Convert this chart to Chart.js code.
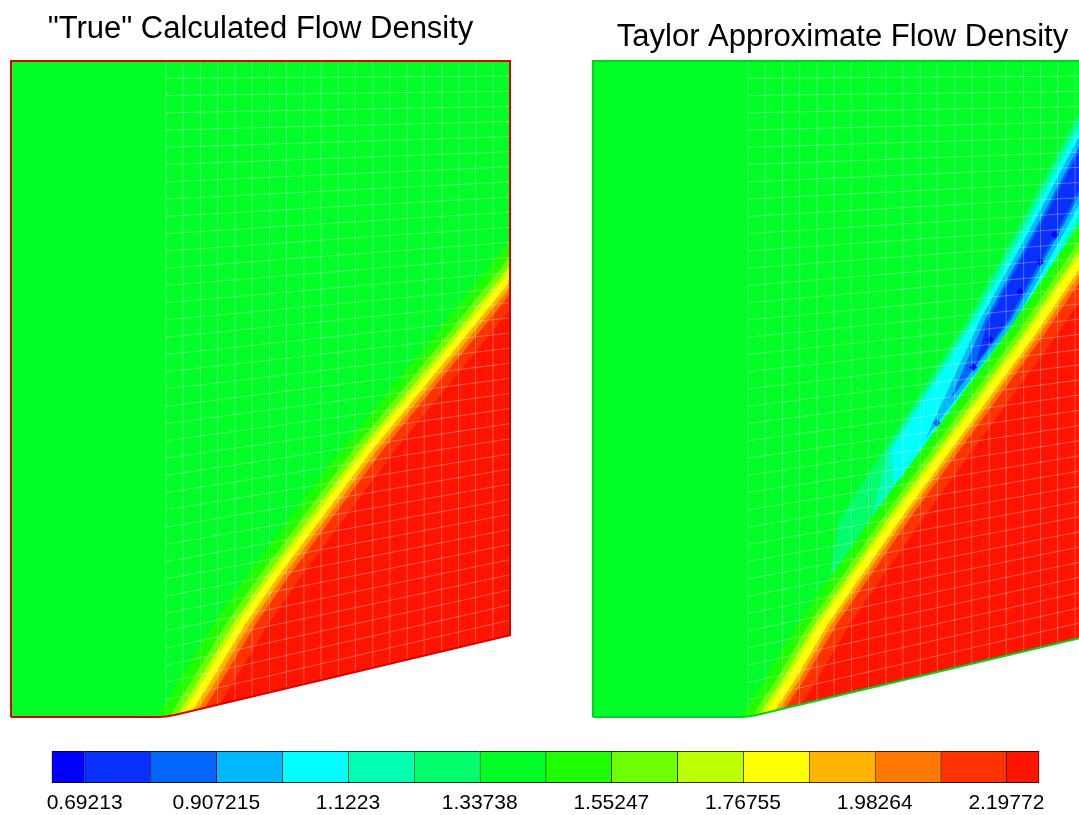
<!DOCTYPE html>
<html>
<head>
<meta charset="utf-8">
<title>Flow Density</title>
<script src="https://cdn.jsdelivr.net/npm/chart.js@4.4.1/dist/chart.umd.min.js"></script>
<style>
  html, body { margin: 0; padding: 0; background: #fff; overflow: hidden; }
  body { width: 1079px; height: 815px; position: relative; }
  canvas { position: absolute; }
  #trueField { left: 0; top: 0; }
  #taylorField { left: 582px; top: 0; }
  #legendBar { left: 0; top: 740px; }
</style>
</head>
<body>
<canvas id="trueField" width="530" height="740"></canvas>
<canvas id="taylorField" width="530" height="740"></canvas>
<canvas id="legendBar" width="1079" height="75"></canvas>
<script>
// contour levels and colours (16 bands, first/last are open ended)
var levels = [0.69213, 0.79967, 0.907215, 1.01476, 1.1223, 1.22984, 1.33738, 1.44493,
              1.55247, 1.66001, 1.76755, 1.8751, 1.98264, 2.09018, 2.19772];
var legendMin = 0.63836, legendMax = 2.25149;
var levelColors = ['#0000ff', '#0a30ff', '#0066ff', '#00b8ff', '#00ffff', '#00ffb2', '#00ff6a', '#00ff26',
                   '#1eff00', '#6eff00', '#bbff00', '#ffff00', '#ffb400', '#ff7800', '#ff3200', '#ff1400'];
var tickValues = [0.69213, 0.907215, 1.1223, 1.33738, 1.55247, 1.76755, 1.98264, 2.19772];
var tickLabels = ['0.69213', '0.907215', '1.1223', '1.33738', '1.55247', '1.76755', '1.98264', '2.19772'];

// channel: flat floor, rounded corner, 13 deg ramp (mesh units)
var H = 131.46;
var wallX = [0, 29.6, 31.1, 32.8, 100, 100, 0, 0];
var wallY = [0, 0, 0.08, 0.42, 16.4, H, H, 0];
var maskX = [0, 29.6, 31.1, 32.8, 100, 110, 110, 0];
var maskY = [0, 0, 0.08, 0.42, 16.4, 16.4, -10, -10];
var rampFoot = 31.1, rampEnd = 16.4;
var meshCols = [31.1, 34.5, 38.0, 41.4, 44.9, 48.3, 51.8, 55.2, 58.7, 62.1,
                65.6, 69.0, 72.5, 75.9, 79.4, 82.8, 86.3, 89.7, 93.1, 96.6];
var meshRows = 38;

// oblique shock, calculated solution: trace of the 1.82 contour + offsets of levels 1.445 .. 2.198
var trueShockX = [33.1, 35.3, 39.3, 45.9, 52.9, 71.5, 88.0, 100.0, 110.0];
var trueShockY = [-4.6, 1.0, 7.4, 18.4, 28.5, 53.5, 73.6, 88.4, 101.6];
var trueShift = [-5.5, -3.0, -1.6, -0.7, 0.9, 1.9, 3.0, 5.5];

// oblique shock, Taylor approximation
var taylorShockX = [33.1, 35.5, 39.5, 45.9, 52.9, 61.5, 70.7, 76.6, 87.6, 97.4, 106.6];
var taylorShockY = [-4.6, 1.4, 7.4, 18.4, 28.5, 40.9, 53.5, 61.5, 76.6, 91.2, 104.6];
var taylorShift = [-5.0, -2.8, -1.6, -0.8, 1.0, 1.8, 2.8, 5.4];

// low density tongue ahead of the Taylor shock (levels 1.337 down to 0.692)
var tongueX = [55.5, 64.5, 81.2, 92.2, 99.6, 111.6];
var tongueY = [39.5, 53.5, 79.6, 99.6, 113.6, 135.7];
var tongueHalf = [6.2, 5.4, 4.6, 3.6, 2.6, 2.0];
var tipX = [46.7, 54.7, 60.5, 66.5, 71.5, 76.6];
var tipY = [23.5, 34.5, 45.9, 55.5, 63.5, 70.5];
var spotX = [92.6, 89.6, 85.6, 79.6, 76.2, 62.1, 68.9];
var spotY = [96.6, 91.2, 85.2, 75.6, 70.1, 47.5, 58.9];
var spotLevel = [0, 0, 0, 0, 0, 3, 2];

Chart.defaults.font.family = "'Liberation Sans', Arial, sans-serif";
Chart.defaults.color = '#000';

function pts(xs, ys) {
  return xs.map(function (x, i) { return {x: x, y: ys[i]}; });
}

function area(points, color) {
  return {data: points, fill: 'shape', backgroundColor: color, borderWidth: 0, pointRadius: 0};
}

// region above one contour level: everything right of the shifted shock trace
function shockBand(sx, sy, shift, color) {
  var p = pts(sx.map(function (x) { return x + shift; }), sy);
  var last = p[p.length - 1];
  p.push({x: 160, y: last.y}, {x: 160, y: -20}, {x: p[0].x, y: -20});
  return area(p, color);
}

function tongueBand(k) {
  var h = tongueHalf[k];
  var left = [{x: tipX[k], y: tipY[k]}], right = [];
  tongueX.forEach(function (x, i) {
    if (tongueY[i] > tipY[k] + 6) {
      left.push({x: x - h, y: tongueY[i]});
      right.unshift({x: x + h, y: tongueY[i]});
    }
  });
  return area(left.concat(right), levelColors[6 - k]);
}

function rampY(x) {
  return rampEnd * (x - rampFoot) / (100 - rampFoot);
}

function meshLines() {
  var p = [];
  meshCols.forEach(function (c) {
    p.push({x: c, y: rampY(c)}, {x: c, y: H}, {x: c, y: null});
  });
  for (var j = 1; j < meshRows; j++) {
    var f = j / meshRows;
    p.push({x: rampFoot, y: f * H}, {x: 100, y: rampEnd + f * (H - rampEnd)}, {x: 100, y: null});
  }
  return {data: p, borderColor: 'rgba(255,255,255,0.3)', borderWidth: 1, pointRadius: 0, fill: false};
}

function fieldChart(id, title, pad, edge, shockX, shockY, shift, tongue) {
  var sets = [area(pts(wallX, wallY), levelColors[7])];
  if (tongue) {
    for (var k = 0; k < tongueHalf.length; k++) sets.push(tongueBand(k));
    sets.push({
      data: pts(spotX, spotY), showLine: false, fill: false,
      pointStyle: 'rectRot', pointRadius: 4, pointBorderWidth: 0,
      pointBackgroundColor: spotLevel.map(function (l) { return levelColors[l]; })
    });
  }
  shift.forEach(function (s, k) {
    sets.push(shockBand(shockX, shockY, s, levelColors[8 + k]));
  });
  sets.push(meshLines());
  sets.push(area(pts(maskX, maskY), '#ffffff'));
  // outline keeps its full width on the plot edges
  sets.push({data: pts(wallX, wallY), borderColor: edge, borderWidth: 2, pointRadius: 0, fill: false, clip: 3});
  // later datasets on top
  sets.forEach(function (d, i) { d.order = -i; });

  return new Chart(document.getElementById(id), {
    type: 'line',
    data: {datasets: sets},
    options: {
      responsive: false,
      animation: false,
      events: [],
      layout: {padding: {left: 11, right: 20, top: 0, bottom: 23}},
      elements: {line: {tension: 0}},
      scales: {
        x: {type: 'linear', display: false, min: 0, max: 100},
        y: {type: 'linear', display: false, min: 0, max: H}
      },
      plugins: {
        legend: {display: false},
        tooltip: {enabled: false},
        title: {
          display: true, text: title, color: '#000', padding: pad,
          font: {size: 31, weight: 'normal'}
        }
      }
    }
  });
}

fieldChart('trueField', '"True" Calculated Flow Density', {top: 10.4, bottom: 13.4}, '#dc0000',
           trueShockX, trueShockY, trueShift, false);
fieldChart('taylorField', 'Taylor Approximate Flow Density', {top: 18.4, bottom: 5.4}, '#00d21e',
           taylorShockX, taylorShockY, taylorShift, true);

// colour legend
var edges = [legendMin].concat(levels, [legendMax]);
var barSets = levelColors.map(function (c, i) {
  return {
    data: [[edges[i], edges[i + 1]]],
    backgroundColor: c,
    borderColor: '#000',
    borderWidth: {left: 1, top: 1, bottom: 1, right: i === levelColors.length - 1 ? 1 : 0},
    borderSkipped: false,
    grouped: false,
    barPercentage: 1,
    categoryPercentage: 1
  };
});

new Chart(document.getElementById('legendBar'), {
  type: 'bar',
  data: {labels: ['density'], datasets: barSets},
  options: {
    indexAxis: 'y',
    responsive: false,
    animation: false,
    events: [],
    layout: {padding: {left: 51.7, right: 39.7, top: 11, bottom: 0}},
    scales: {
      y: {display: false},
      x: {
        type: 'linear', min: legendMin, max: legendMax,
        grid: {display: false, drawTicks: false},
        border: {display: false},
        afterBuildTicks: function (ax) {
          ax.ticks = tickValues.map(function (v) { return {value: v}; });
        },
        afterFit: function (ax) { ax.height = 32; },
        ticks: {
          autoSkip: false, maxRotation: 0, padding: 8, color: '#000',
          font: {size: 21},
          callback: function (v, i) { return tickLabels[i]; }
        }
      }
    },
    plugins: {legend: {display: false}, tooltip: {enabled: false}}
  }
});
</script>
</body>
</html>
